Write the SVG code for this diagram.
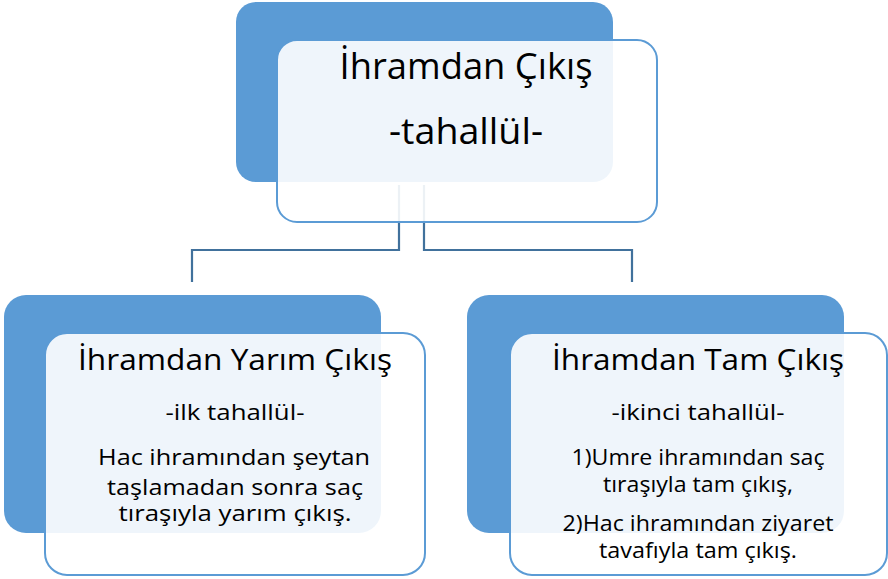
<svg xmlns="http://www.w3.org/2000/svg" width="888" height="579" viewBox="0 0 888 579">
<style>
.back{fill:#5B9BD5;}
.front{fill:#FFFFFF;fill-opacity:0.9;stroke:#5B9BD5;stroke-width:2;}
.conn{fill:none;stroke:#41719C;stroke-width:2.2;}
text{font-family:"Open Sans","Liberation Sans",sans-serif;fill:#000;text-anchor:middle;}
.t1{font-size:37px;}
.t2{font-size:29px;}
.t3{font-size:22px;}
</style>
<rect width="888" height="579" fill="#FFFFFF"/>
<g id="top-back"><rect class="back" x="236" y="2" width="377" height="180" rx="20"/></g>
<g id="connectors">
<path class="conn" d="M399,185 V250 H192 V282"/>
<path class="conn" d="M424,185 V250 H632 V282"/>
</g>
<g id="top">
<rect class="front" x="277" y="40" width="380" height="182" rx="20"/>
<text class="t1" x="466" y="79" textLength="253" lengthAdjust="spacingAndGlyphs">İhramdan Çıkış</text>
<text class="t1" x="466" y="144" textLength="154" lengthAdjust="spacingAndGlyphs">-tahallül-</text>
</g>
<g id="left">
<rect class="back" x="4" y="295" width="377" height="238" rx="22"/>
<rect class="front" x="45" y="333" width="380" height="242" rx="22"/>
<text class="t2" x="235" y="370" textLength="314" lengthAdjust="spacingAndGlyphs">İhramdan Yarım Çıkış</text>
<text class="t3" x="235" y="420" textLength="139" lengthAdjust="spacingAndGlyphs">-ilk tahallül-</text>
<text class="t3" x="234" y="465" textLength="272" lengthAdjust="spacingAndGlyphs">Hac ihramından şeytan</text>
<text class="t3" x="235" y="495" textLength="256" lengthAdjust="spacingAndGlyphs">taşlamadan sonra saç</text>
<text class="t3" x="235" y="521" textLength="233" lengthAdjust="spacingAndGlyphs">tıraşıyla yarım çıkış.</text>
</g>
<g id="right">
<rect class="back" x="467" y="295" width="377" height="238" rx="22"/>
<rect class="front" x="510" y="333" width="377" height="242" rx="22"/>
<text class="t2" x="698" y="370" textLength="292" lengthAdjust="spacingAndGlyphs">İhramdan Tam Çıkış</text>
<text class="t3" x="698" y="420" textLength="173" lengthAdjust="spacingAndGlyphs">-ikinci tahallül-</text>
<text class="t3" x="698" y="465" textLength="253" lengthAdjust="spacingAndGlyphs">1)Umre ihramından saç</text>
<text class="t3" x="698" y="492" textLength="190" lengthAdjust="spacingAndGlyphs">tıraşıyla tam çıkış,</text>
<text class="t3" x="698" y="531" textLength="271" lengthAdjust="spacingAndGlyphs">2)Hac ihramından ziyaret</text>
<text class="t3" x="698" y="558" textLength="198" lengthAdjust="spacingAndGlyphs">tavafıyla tam çıkış.</text>
</g>
</svg>
